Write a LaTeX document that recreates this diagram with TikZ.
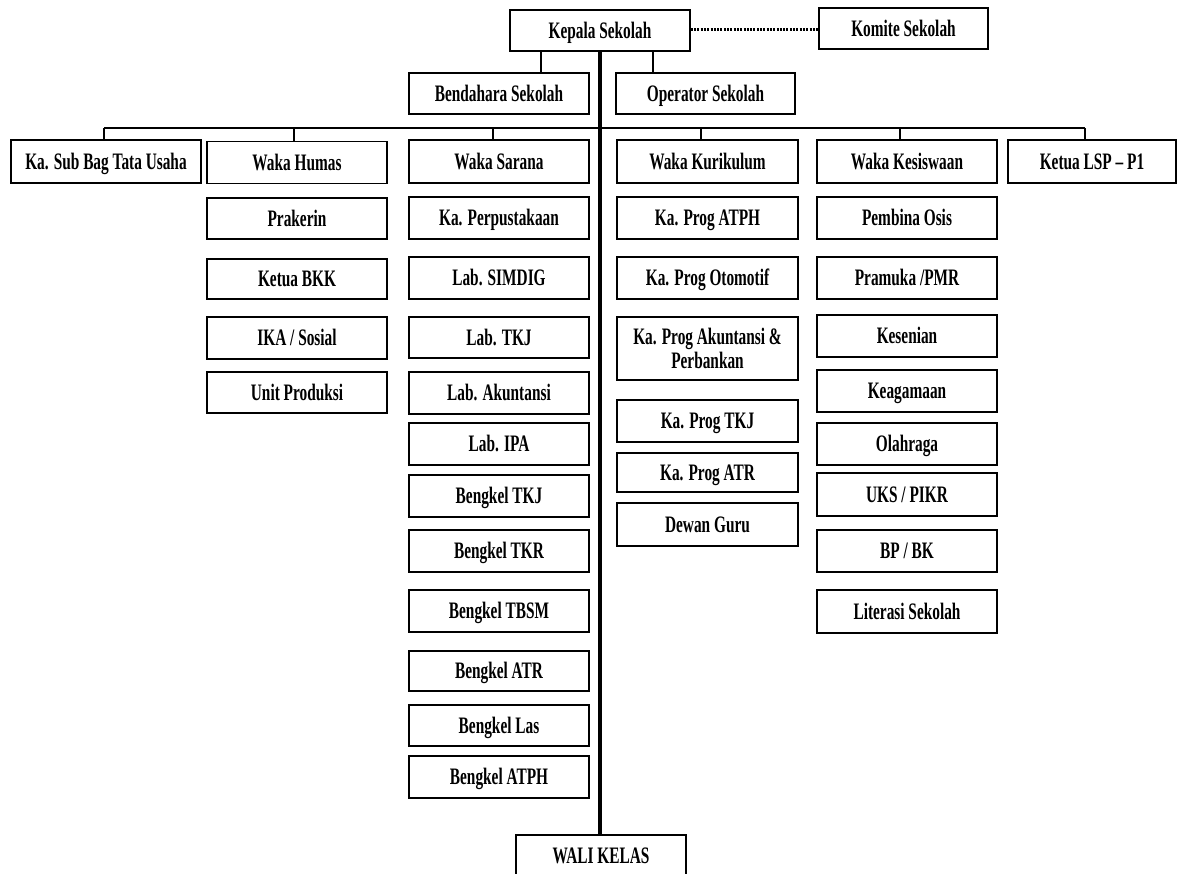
\documentclass[tikz,border=0pt]{standalone}
\usepackage{fontspec}
\setmainfont{Liberation Serif}[FakeStretch=0.65]
\begin{document}
\begin{tikzpicture}[x=1pt,y=-1pt,
  base/.style={draw, line width=1.5pt, inner sep=0pt, align=center,
    minimum height=41pt, font=\fontsize{23.6}{24}\selectfont\bfseries},
  box/.style={base, text height=15.4pt, text depth=0pt},
  link/.style={line width=1.4pt},
  spine/.style={line width=3.5pt},
  dots/.style={line width=3pt, dash pattern=on 2pt off 1.3pt},
  colA/.style={box, minimum width=180pt},
  colB/.style={box, minimum width=181pt}]
\useasboundingbox (0,0) rectangle (1178,873);
% top
\node[colA] (kepala) at (600,30.5) {Kepala Sekolah};
\node[box, minimum width=169pt] (komite) at (903.5,28.5) {Komite Sekolah};
\node[colA] (bendahara) at (499,93.5) {Bendahara Sekolah};
\node[box, minimum width=179pt] (operator) at (705.5,93.5) {Operator Sekolah};
% row 1
\node[box, minimum width=190pt, minimum height=43pt] (kasub) at (106,161.5) {Ka. Sub Bag Tata Usaha};
\node[colA, minimum height=42pt] (humas) at (297,162.5) {Waka Humas};
\node[colA, minimum height=43pt] (sarana) at (499,161.5) {Waka Sarana};
\node[colB, minimum height=43pt] (kurikulum) at (707.5,161.5) {Waka Kurikulum};
\node[colA, minimum height=43pt] (kesiswaan) at (907,161.5) {Waka Kesiswaan};
\node[box, minimum width=168pt, minimum height=43pt] (lsp) at (1092,161.5) {Ketua LSP – P1};
% humas column
\node[colA] (prakerin) at (297,218.5) {Prakerin};
\node[colA, minimum height=40pt] (bkk) at (297,279) {Ketua BKK};
\node[colA, minimum height=42pt] (ika) at (297,338) {IKA / Sosial};
\node[colA] (unit) at (297,392.5) {Unit Produksi};
% sarana column
\node[colA, minimum height=42pt] (perpus) at (499,218) {Ka. Perpustakaan};
\node[colA, minimum height=42pt] (simdig) at (499,278) {Lab. SIMDIG};
\node[colA] (labtkj) at (499,337.5) {Lab. TKJ};
\node[colA, minimum height=42pt] (labak) at (499,393) {Lab. Akuntansi};
\node[colA, minimum height=42pt] (labipa) at (499,444) {Lab. IPA};
\node[colA, minimum height=42pt] (btkj) at (499,496) {Bengkel TKJ};
\node[colA, minimum height=42pt] (btkr) at (499,551) {Bengkel TKR};
\node[colA, minimum height=42pt] (btbsm) at (499,611) {Bengkel TBSM};
\node[colA, minimum height=40pt] (batr) at (499,671) {Bengkel ATR};
\node[colA] (blas) at (499,725.5) {Bengkel Las};
\node[colA, minimum height=42pt] (batph) at (499,777) {Bengkel ATPH};
% kurikulum column
\node[colB, minimum height=42pt] (patph) at (707.5,218) {Ka. Prog ATPH};
\node[colB, minimum height=42pt] (poto) at (707.5,278) {Ka. Prog Otomotif};
\node[base, minimum width=181pt, minimum height=63pt] (pak) at (707.5,348.5) {Ka. Prog Akuntansi \&\\Perbankan};
\node[colB, minimum height=42pt] (ptkj) at (707.5,421) {Ka. Prog TKJ};
\node[colB, minimum height=39pt] (patr) at (707.5,472.5) {Ka. Prog ATR};
\node[colB, minimum height=43pt] (dewan) at (707.5,524.5) {Dewan Guru};
% kesiswaan column
\node[colA, minimum height=42pt] (osis) at (907,218) {Pembina Osis};
\node[colA, minimum height=42pt] (pramuka) at (907,278) {Pramuka /PMR};
\node[colA, minimum height=42pt] (seni) at (907,336) {Kesenian};
\node[colA, minimum height=42pt] (agama) at (907,391) {Keagamaan};
\node[colA, minimum height=42pt] (olah) at (907,444) {Olahraga};
\node[colA, minimum height=43pt] (uks) at (907,494.5) {UKS / PIKR};
\node[colA, minimum height=42pt] (bpbk) at (907,551) {BP / BK};
\node[colA, minimum height=43pt] (literasi) at (907,611.5) {Literasi Sekolah};
% wali kelas
\node[box, minimum width=170pt] (wali) at (601,855.5) {WALI KELAS};
% connectors
\draw[dots] ([yshift=1.5pt]kepala.east) -- ([yshift=1.5pt]kepala.east -| komite.west);
\draw[link] ([xshift=42pt]bendahara.north) -- ([xshift=42pt]bendahara.north |- kepala.south);
\draw[link] ([xshift=-52.5pt]operator.north) -- ([xshift=-52.5pt]operator.north |- kepala.south);
\coordinate (busL) at (104,128);
\coordinate (busR) at (1085,128);
\draw[link] (busL) -- (busR);
\draw[link] ([xshift=-2pt]kasub.north) -- ([xshift=-2pt]kasub.north |- busL);
\draw[link] ([xshift=-3pt]humas.north) -- ([xshift=-3pt]humas.north |- busL);
\draw[link] ([xshift=-6pt]sarana.north) -- ([xshift=-6pt]sarana.north |- busL);
\draw[link] ([xshift=-6.5pt]kurikulum.north) -- ([xshift=-6.5pt]kurikulum.north |- busL);
\draw[link] ([xshift=-7pt]kesiswaan.north) -- ([xshift=-7pt]kesiswaan.north |- busL);
\draw[link] ([xshift=-7pt]lsp.north) -- ([xshift=-7pt]lsp.north |- busL);
\draw[spine] ([xshift=-1pt]wali.north) -- ([xshift=-1pt]wali.north |- kepala.south);
\end{tikzpicture}
\end{document}
